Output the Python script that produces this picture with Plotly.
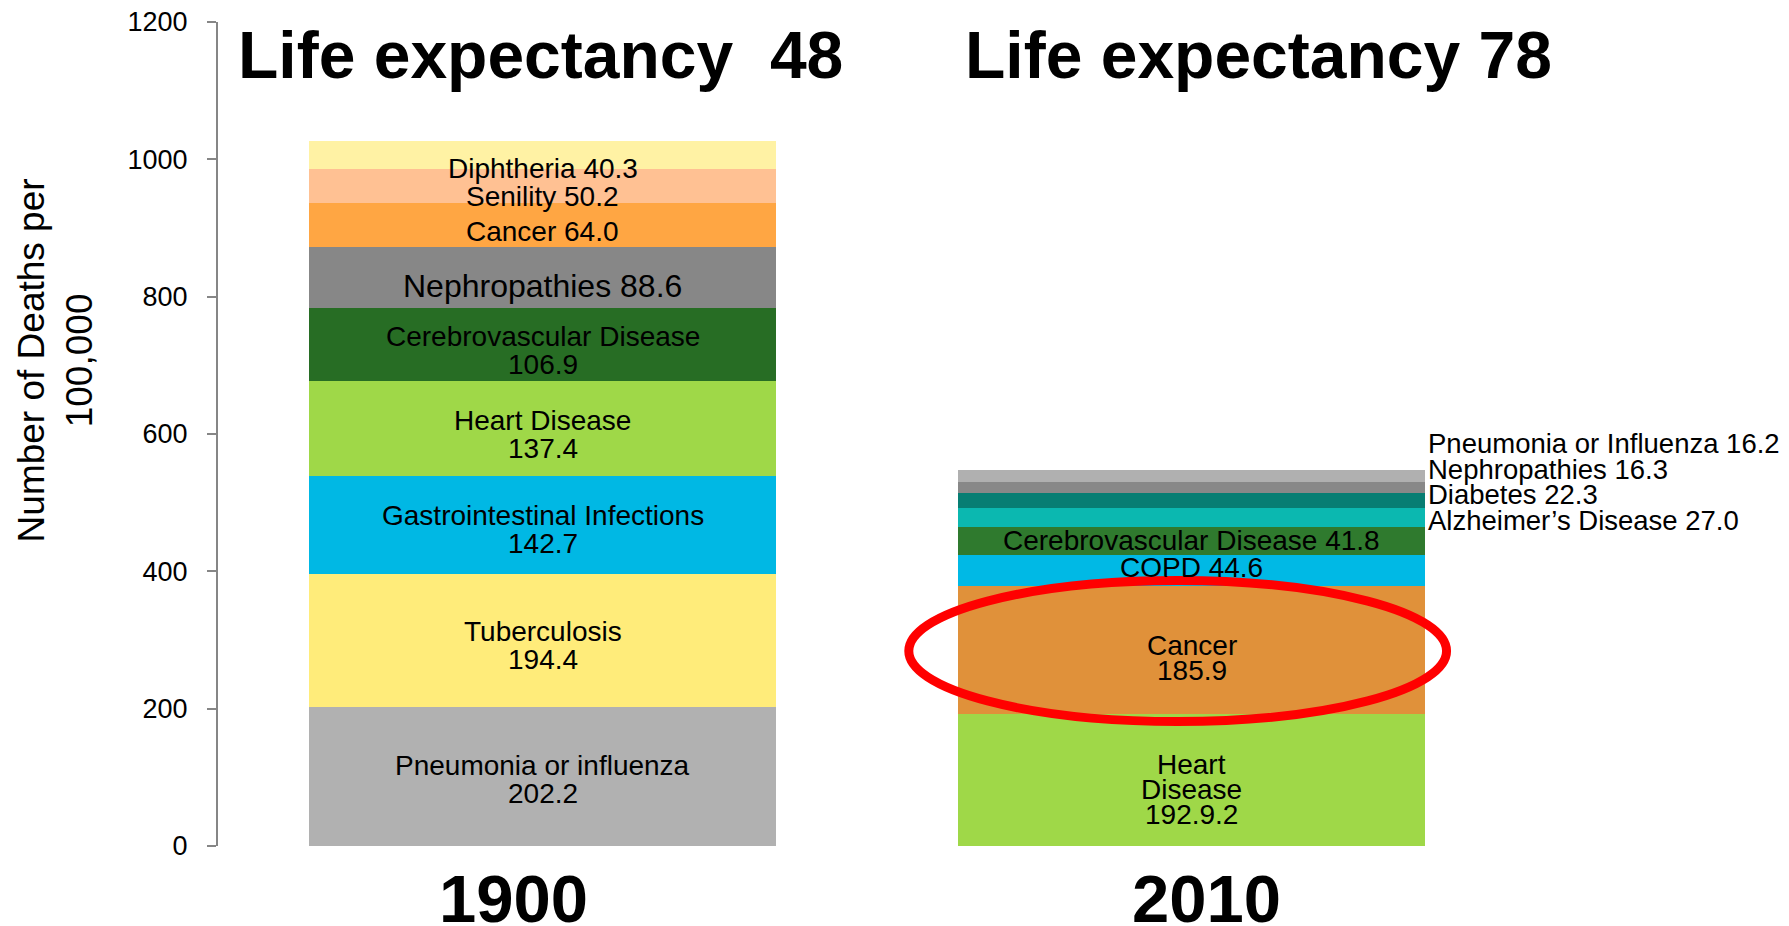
import plotly.graph_objects as go

# ---------------- data ----------------
years = ["1900", "2010"]

causes_1900 = ["Pneumonia or influenza", "Tuberculosis", "Gastrointestinal Infections",
               "Heart Disease", "Cerebrovascular Disease", "Nephropathies",
               "Cancer", "Senility", "Diphtheria"]
deaths_1900 = [202.2, 194.4, 142.7, 137.4, 106.9, 88.6, 64.0, 50.2, 40.3]
labels_1900 = [["Pneumonia or influenza", "202.2"], ["Tuberculosis", "194.4"],
               ["Gastrointestinal Infections", "142.7"], ["Heart Disease", "137.4"],
               ["Cerebrovascular Disease", "106.9"], ["Nephropathies 88.6"],
               ["Cancer 64.0"], ["Senility 50.2"], ["Diphtheria 40.3"]]

causes_2010 = ["Heart Disease", "Cancer", "COPD", "Cerebrovascular Disease",
               "Alzheimer’s Disease", "Diabetes", "Nephropathies",
               "Pneumonia or Influenza"]
deaths_2010 = [192.9, 185.9, 44.6, 41.8, 27.0, 22.3, 16.3, 16.2]
labels_2010 = [["Heart", "Disease", "192.9.2"], ["Cancer", "185.9"], ["COPD 44.6"],
               ["Cerebrovascular Disease 41.8"], ["Alzheimer’s Disease 27.0"],
               ["Diabetes 22.3"], ["Nephropathies 16.3"], ["Pneumonia or Influenza 16.2"]]

titles = ["Life expectancy  48", "Life expectancy 78"]
y_ticks = [0, 200, 400, 600, 800, 1000, 1200]

# ---------------- styles ----------------
colors_1900 = ["#B1B1B1", "#FFEC7A", "#00B8E4", "#9FD848", "#276D24",
               "#878787", "#FFA643", "#FFC193", "#FFF2A4"]
colors_2010 = ["#9FD848", "#E0913A", "#00B9E5", "#2F7A2E", "#0BB8B0",
               "#077E73", "#888888", "#B0B0B0"]
label_size_1900 = [28, 28, 28, 28, 28, 32, 28, 28, 28]
label_shift_1900 = [-3, -5, -5, -6, -6, -8, -6, -11, -14]
label_shift_2010 = [-10, -8, 3, 0]   # inside labels of the 2010 bar
outside_count = 4                    # last four 2010 labels sit right of the bar
LINE_1900 = 28
LINE_2010 = 25
OUT_LINE = 25.5
FONT = "Liberation Sans, Arial, sans-serif"

fig = go.Figure()

for name, val, col in zip(causes_1900, deaths_1900, colors_1900):
    fig.add_trace(go.Bar(x=[years[0]], y=[val], name=name, marker_color=col,
                         marker_line_width=0, width=0.72, showlegend=False,
                         hoverinfo="name+y"))
for name, val, col in zip(causes_2010, deaths_2010, colors_2010):
    fig.add_trace(go.Bar(x=[years[1]], y=[val], name=name, marker_color=col,
                         marker_line_width=0, width=0.72, showlegend=False,
                         hoverinfo="name+y"))

annotations = []


def add_block(xidx, yval, lines, size, shift, line_h):
    n = len(lines)
    for j, ln in enumerate(lines):
        annotations.append(dict(x=xidx, y=yval, xref="x", yref="y", text=ln,
                                showarrow=False, yanchor="middle",
                                yshift=shift + ((n - 1) / 2 - j) * line_h,
                                font=dict(family=FONT, size=size, color="#000000")))


# labels inside the 1900 bar (x given as category index)
base = 0.0
for val, lines, fs, sh in zip(deaths_1900, labels_1900, label_size_1900, label_shift_1900):
    add_block(0, base + val / 2, lines, fs, sh, LINE_1900)
    base += val

# labels of the 2010 bar
base = 0.0
centers_2010 = []
for val in deaths_2010:
    centers_2010.append(base + val / 2)
    base += val
n_in = len(deaths_2010) - outside_count
for i in range(n_in):
    add_block(1, centers_2010[i], labels_2010[i], 28, label_shift_2010[i], LINE_2010)
for k in range(outside_count):
    i = n_in + k
    annotations.append(dict(x=1, y=centers_2010[n_in], xref="x", yref="y",
                            text=labels_2010[i][0], showarrow=False,
                            xanchor="left", yanchor="middle", xshift=234,
                            yshift=-3 + k * OUT_LINE,
                            font=dict(family=FONT, size=27.5, color="#000000")))

# titles
for xc, t in zip([0.2487, 0.8020], titles):
    annotations.append(dict(x=xc, y=1.0, xref="paper", yref="paper", text=t,
                            showarrow=False, xanchor="center", yanchor="middle",
                            yshift=-33,
                            font=dict(family=FONT, size=66, color="#000000",
                                      weight="bold")))

# year labels under the bars
for idx, (yr, xs) in enumerate(zip(years, [-29, 15])):
    annotations.append(dict(x=idx, y=0, xref="x", yref="paper", text=yr,
                            showarrow=False, xanchor="center", yanchor="middle",
                            xshift=xs, yshift=-52,
                            font=dict(family=FONT, size=67, color="#000000",
                                      weight="bold")))

# y-axis title
annotations.append(dict(x=-0.125, y=0.589, xref="paper", yref="paper",
                        text="Number of Deaths per<br>100,000", textangle=-90,
                        showarrow=False, xanchor="center", yanchor="middle",
                        font=dict(family=FONT, size=37, color="#000000")))

fig.update_layout(
    barmode="stack",
    width=1789, height=926,
    margin=dict(l=210, r=281, t=14, b=88, autoexpand=False),
    paper_bgcolor="white", plot_bgcolor="white",
    annotations=annotations,
    shapes=[dict(type="circle", xref="paper", yref="paper",
                 x0=0.5322, x1=0.9465, y0=0.1510, y1=0.3222,
                 line=dict(color="#FF0000", width=9), layer="above")],
    xaxis=dict(type="category", categoryorder="array", categoryarray=years,
               range=[-0.5, 1.5], showline=False, showgrid=False, ticks="",
               showticklabels=False, zeroline=False, automargin=False),
    yaxis=dict(range=[0, 1200], tickvals=y_ticks, showgrid=False, zeroline=False,
               showline=True, linecolor="#868686", linewidth=2,
               ticks="outside", ticklen=9, tickcolor="#868686", tickwidth=2,
               ticklabelstandoff=14, automargin=False, ticklabeloverflow="allow",
               tickfont=dict(family=FONT, size=27, color="#000000")),
)

fig.write_html("out.html")
